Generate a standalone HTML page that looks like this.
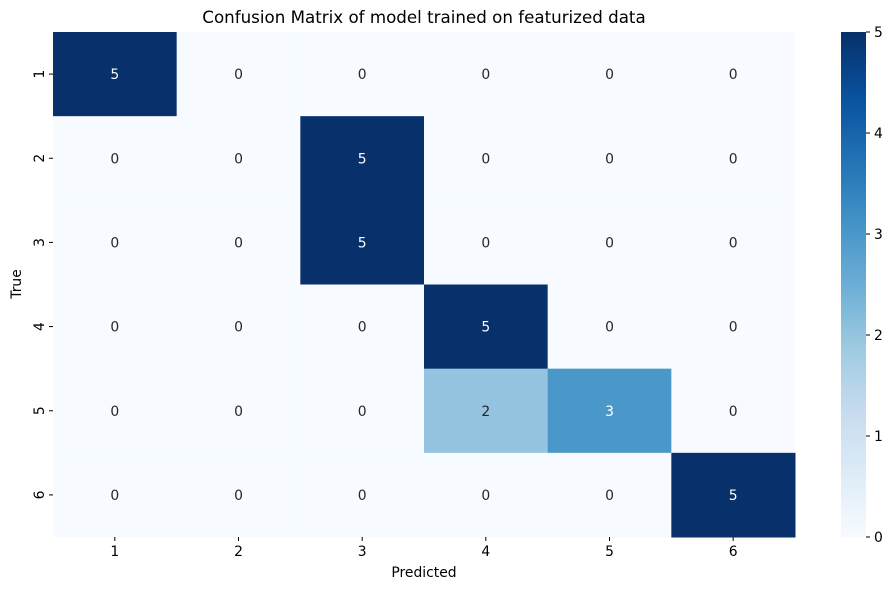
<!DOCTYPE html>
<html><head><meta charset="utf-8"><style>
body{margin:0;background:#fff;font-family:"Liberation Sans","DejaVu Sans",sans-serif;}
svg text{font-family:"DejaVu Sans","Liberation Sans",sans-serif;}
</style></head><body>
<svg id="chart" width="894" height="590" xmlns="http://www.w3.org/2000/svg">
<defs><linearGradient id="blues" x1="0" y1="1" x2="0" y2="0">
<stop offset="0" stop-color="#f7fbff"/><stop offset="0.125" stop-color="#deebf7"/><stop offset="0.25" stop-color="#c6dbef"/><stop offset="0.375" stop-color="#9ecae1"/><stop offset="0.5" stop-color="#6baed6"/><stop offset="0.625" stop-color="#4292c6"/><stop offset="0.75" stop-color="#2171b5"/><stop offset="0.875" stop-color="#08519c"/><stop offset="1" stop-color="#08306b"/>
</linearGradient></defs>
<text x="424" y="23" font-size="16.7" text-anchor="middle">Confusion Matrix of model trained on featurized data</text>
<g id="cells"></g>
<rect x="841" y="32" width="25" height="505" fill="url(#blues)"/>
<g id="axes"></g>
<text x="424" y="577" font-size="13.9" text-anchor="middle">Predicted</text>
<text x="0" y="0" font-size="13.9" text-anchor="middle" transform="translate(21,284) rotate(-90)">True</text>
</svg>
<script>
const labels=["1","2","3","4","5","6"];
const matrix=[[5,0,0,0,0,0],[0,0,5,0,0,0],[0,0,5,0,0,0],[0,0,0,5,0,0],[0,0,0,2,3,0],[0,0,0,0,0,5]];
const cbTicks=[0,1,2,3,4,5];
const NS="http://www.w3.org/2000/svg";
const L=53,R=795,T=32,B=537,vmax=5;
const cw=(R-L)/labels.length,ch=(B-T)/labels.length;
const stops=[[0,[247,251,255]],[.125,[222,235,247]],[.25,[198,219,239]],[.375,[158,202,225]],[.5,[107,174,214]],[.625,[66,146,198]],[.75,[33,113,181]],[.875,[8,81,156]],[1,[8,48,107]]];
function color(v){const t=v/vmax;for(let i=1;i<stops.length;i++){if(t<=stops[i][0]){const a=stops[i-1],b=stops[i],f=(t-a[0])/(b[0]-a[0]);return "rgb("+a[1].map((c,k)=>Math.round(c+(b[1][k]-c)*f)).join(",")+")";}}return "rgb(8,48,107)";}
function mk(tag,attrs,p){const e=document.createElementNS(NS,tag);for(const k in attrs)e.setAttribute(k,attrs[k]);p.appendChild(e);return e;}
const cells=document.getElementById('cells'),axes=document.getElementById('axes');
matrix.forEach((row,i)=>row.forEach((v,j)=>{
const r=mk('rect',{x:L+j*cw,y:T+i*ch,width:cw+0.5,height:ch+0.5,fill:color(v)},cells);


const t=mk('text',{x:L+(j+.5)*cw,y:T+(i+.5)*ch+5,'font-size':13.9,'text-anchor':'middle',fill:v/vmax>0.5?'#fff':'#262626'},cells);
t.textContent=v;


}));
labels.forEach((l,j)=>{
const x=L+(j+.5)*cw;
mk('line',{x1:x,x2:x,y1:B,y2:B+4,stroke:'#000'},axes);
const t=mk('text',{x:x,y:B+19,'font-size':13.9,'text-anchor':'middle'},axes);t.textContent=l;


const y=T+(j+.5)*ch;
mk('line',{x1:L-4,x2:L,y1:y,y2:y,stroke:'#000'},axes);
const u=mk('text',{'font-size':13.9,'text-anchor':'middle',transform:'translate('+(L-9)+','+y+') rotate(-90)'},axes);u.textContent=l;


});
cbTicks.forEach(v=>{
const y=B-(v/vmax)*(B-T);
mk('line',{x1:866,x2:870,y1:y,y2:y,stroke:'#000'},axes);
const t=mk('text',{x:874,y:y+5,'font-size':13.9},axes);t.textContent=v;


});
</script>
</body></html>
